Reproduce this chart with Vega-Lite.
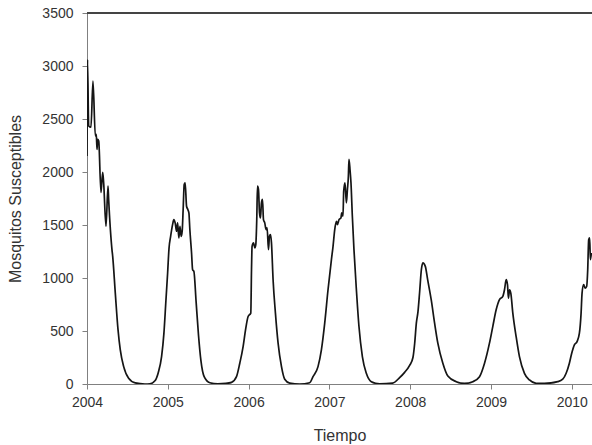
{
  "$schema": "https://vega.github.io/schema/vega-lite/v6.json",
  "autosize": "none",
  "width": 505,
  "height": 371,
  "padding": {"left": 87, "top": 13, "right": 0, "bottom": 61},
  "background": "white",
  "config": {
    "view": {"stroke": null},
    "axis": {
      "domainColor": "#808080",
      "tickColor": "#808080",
      "tickSize": 5,
      "grid": false,
      "labelColor": "#333333",
      "labelFont": "Liberation Sans",
      "labelFontSize": 14,
      "labelFlush": false,
      "labelOverlap": false,
      "titleFont": "Liberation Sans",
      "titleFontSize": 16,
      "titleFontWeight": "normal",
      "titleColor": "#333333"
    }
  },
  "data": {
    "values": [
      {"t": 2004.000, "v": 2150}, {"t": 2004.006, "v": 3060}, {"t": 2004.021, "v": 2434}, {"t": 2004.049, "v": 2422},
      {"t": 2004.074, "v": 2857}, {"t": 2004.103, "v": 2340}, {"t": 2004.115, "v": 2355}, {"t": 2004.124, "v": 2213},
      {"t": 2004.132, "v": 2308}, {"t": 2004.145, "v": 2292}, {"t": 2004.173, "v": 1807}, {"t": 2004.194, "v": 1996},
      {"t": 2004.206, "v": 1901}, {"t": 2004.235, "v": 1488}, {"t": 2004.260, "v": 1866}, {"t": 2004.268, "v": 1741},
      {"t": 2004.309, "v": 1268}, {"t": 2004.318, "v": 1204}, {"t": 2004.350, "v": 860}, {"t": 2004.383, "v": 520},
      {"t": 2004.412, "v": 322}, {"t": 2004.454, "v": 164}, {"t": 2004.515, "v": 54}, {"t": 2004.597, "v": 10},
      {"t": 2004.717, "v": 0}, {"t": 2004.779, "v": 2}, {"t": 2004.841, "v": 30}, {"t": 2004.881, "v": 104},
      {"t": 2004.923, "v": 258}, {"t": 2004.952, "v": 480}, {"t": 2004.977, "v": 790}, {"t": 2004.998, "v": 1050},
      {"t": 2005.015, "v": 1280}, {"t": 2005.035, "v": 1393}, {"t": 2005.059, "v": 1504}, {"t": 2005.075, "v": 1551},
      {"t": 2005.091, "v": 1520}, {"t": 2005.109, "v": 1441}, {"t": 2005.121, "v": 1520}, {"t": 2005.137, "v": 1378},
      {"t": 2005.150, "v": 1488}, {"t": 2005.166, "v": 1393}, {"t": 2005.178, "v": 1441}, {"t": 2005.190, "v": 1646},
      {"t": 2005.203, "v": 1883}, {"t": 2005.215, "v": 1898}, {"t": 2005.232, "v": 1677}, {"t": 2005.248, "v": 1646},
      {"t": 2005.261, "v": 1615}, {"t": 2005.273, "v": 1457}, {"t": 2005.294, "v": 1236}, {"t": 2005.307, "v": 1078},
      {"t": 2005.323, "v": 1062}, {"t": 2005.350, "v": 780}, {"t": 2005.380, "v": 460}, {"t": 2005.410, "v": 220},
      {"t": 2005.450, "v": 69}, {"t": 2005.520, "v": 12}, {"t": 2005.620, "v": 2}, {"t": 2005.718, "v": 5},
      {"t": 2005.789, "v": 15}, {"t": 2005.850, "v": 69}, {"t": 2005.891, "v": 196}, {"t": 2005.932, "v": 353},
      {"t": 2005.962, "v": 511}, {"t": 2005.994, "v": 637}, {"t": 2006.027, "v": 669}, {"t": 2006.036, "v": 1078},
      {"t": 2006.043, "v": 1299}, {"t": 2006.061, "v": 1331}, {"t": 2006.077, "v": 1284}, {"t": 2006.089, "v": 1315},
      {"t": 2006.101, "v": 1551}, {"t": 2006.110, "v": 1866}, {"t": 2006.122, "v": 1835}, {"t": 2006.135, "v": 1615},
      {"t": 2006.147, "v": 1567}, {"t": 2006.159, "v": 1709}, {"t": 2006.172, "v": 1741}, {"t": 2006.184, "v": 1551},
      {"t": 2006.200, "v": 1520}, {"t": 2006.216, "v": 1457}, {"t": 2006.229, "v": 1473}, {"t": 2006.246, "v": 1268},
      {"t": 2006.258, "v": 1393}, {"t": 2006.271, "v": 1410}, {"t": 2006.283, "v": 1331}, {"t": 2006.303, "v": 984},
      {"t": 2006.332, "v": 669}, {"t": 2006.365, "v": 385}, {"t": 2006.407, "v": 164}, {"t": 2006.447, "v": 45},
      {"t": 2006.509, "v": 8}, {"t": 2006.633, "v": 0}, {"t": 2006.756, "v": 12}, {"t": 2006.797, "v": 69},
      {"t": 2006.859, "v": 164}, {"t": 2006.901, "v": 322}, {"t": 2006.942, "v": 574}, {"t": 2006.983, "v": 889},
      {"t": 2007.025, "v": 1173}, {"t": 2007.045, "v": 1299}, {"t": 2007.066, "v": 1457}, {"t": 2007.087, "v": 1535},
      {"t": 2007.099, "v": 1504}, {"t": 2007.119, "v": 1551}, {"t": 2007.143, "v": 1567}, {"t": 2007.152, "v": 1615},
      {"t": 2007.168, "v": 1583}, {"t": 2007.177, "v": 1819}, {"t": 2007.193, "v": 1898}, {"t": 2007.210, "v": 1709},
      {"t": 2007.223, "v": 1835}, {"t": 2007.235, "v": 1961}, {"t": 2007.242, "v": 2119}, {"t": 2007.255, "v": 2024},
      {"t": 2007.267, "v": 1898}, {"t": 2007.284, "v": 1583}, {"t": 2007.304, "v": 1268}, {"t": 2007.334, "v": 889},
      {"t": 2007.366, "v": 542}, {"t": 2007.408, "v": 258}, {"t": 2007.457, "v": 101}, {"t": 2007.519, "v": 22},
      {"t": 2007.622, "v": 2}, {"t": 2007.782, "v": 8}, {"t": 2007.869, "v": 60}, {"t": 2007.931, "v": 110},
      {"t": 2007.993, "v": 175}, {"t": 2008.034, "v": 250}, {"t": 2008.055, "v": 380}, {"t": 2008.076, "v": 574},
      {"t": 2008.096, "v": 680}, {"t": 2008.117, "v": 870}, {"t": 2008.138, "v": 1078}, {"t": 2008.157, "v": 1142},
      {"t": 2008.187, "v": 1110}, {"t": 2008.216, "v": 984}, {"t": 2008.260, "v": 795}, {"t": 2008.302, "v": 574},
      {"t": 2008.342, "v": 385}, {"t": 2008.404, "v": 196}, {"t": 2008.466, "v": 75}, {"t": 2008.570, "v": 22},
      {"t": 2008.672, "v": 5}, {"t": 2008.775, "v": 22}, {"t": 2008.858, "v": 69}, {"t": 2008.920, "v": 196},
      {"t": 2008.981, "v": 385}, {"t": 2009.022, "v": 542}, {"t": 2009.064, "v": 700}, {"t": 2009.105, "v": 795},
      {"t": 2009.146, "v": 826}, {"t": 2009.167, "v": 889}, {"t": 2009.188, "v": 984}, {"t": 2009.204, "v": 937},
      {"t": 2009.216, "v": 810}, {"t": 2009.229, "v": 889}, {"t": 2009.245, "v": 858}, {"t": 2009.270, "v": 669},
      {"t": 2009.311, "v": 447}, {"t": 2009.352, "v": 258}, {"t": 2009.414, "v": 101}, {"t": 2009.476, "v": 38},
      {"t": 2009.559, "v": 7}, {"t": 2009.661, "v": 5}, {"t": 2009.826, "v": 22}, {"t": 2009.888, "v": 45},
      {"t": 2009.930, "v": 101}, {"t": 2009.970, "v": 196}, {"t": 2009.999, "v": 290}, {"t": 2010.032, "v": 369},
      {"t": 2010.065, "v": 400}, {"t": 2010.094, "v": 479}, {"t": 2010.115, "v": 669}, {"t": 2010.127, "v": 858},
      {"t": 2010.147, "v": 937}, {"t": 2010.164, "v": 905}, {"t": 2010.184, "v": 921}, {"t": 2010.197, "v": 1078},
      {"t": 2010.209, "v": 1362}, {"t": 2010.221, "v": 1378}, {"t": 2010.230, "v": 1173}, {"t": 2010.242, "v": 1236}
    ]
  },
  "layer": [
    {
      "mark": {"type": "rule", "color": "#444444", "strokeWidth": 1},
      "encoding": {"y": {"datum": 3500, "type": "quantitative", "scale": {"domain": [0, 3500]}}}
    },
    {
      "mark": {"type": "line", "color": "#151515", "strokeWidth": 1.7, "interpolate": "monotone", "clip": true},
      "encoding": {
        "x": {
          "field": "t", "type": "quantitative",
          "scale": {"domain": [2004, 2010.25], "nice": false, "zero": false},
          "axis": {"values": [2004, 2005, 2006, 2007, 2008, 2009, 2010], "format": "d", "title": "Tiempo", "labelPadding": 6, "titlePadding": 18}
        },
        "y": {
          "field": "v", "type": "quantitative",
          "scale": {"domain": [0, 3500], "nice": false},
          "axis": {"values": [0, 500, 1000, 1500, 2000, 2500, 3000, 3500], "format": "d", "title": "Mosquitos Susceptibles", "labelPadding": 9, "titlePadding": 18}
        }
      }
    }
  ]
}
